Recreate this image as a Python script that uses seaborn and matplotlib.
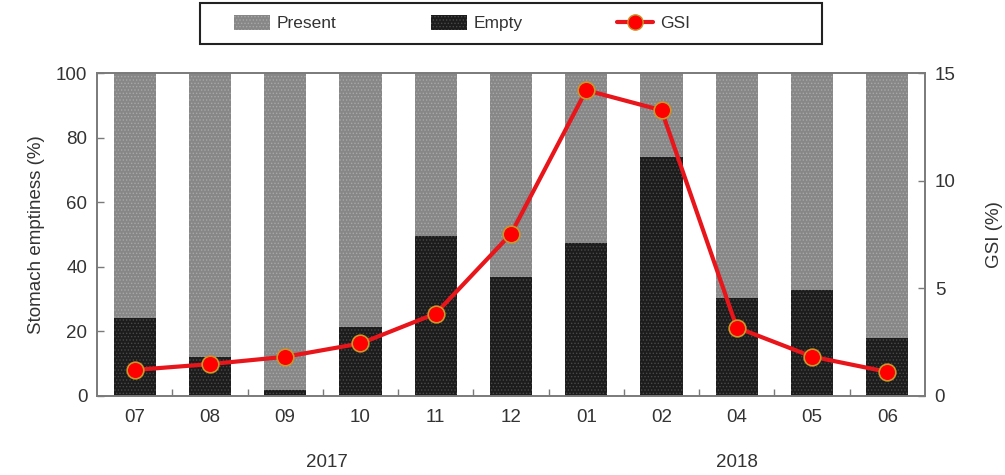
import numpy as np
import pandas as pd
import matplotlib
matplotlib.use("Agg")
import matplotlib.pyplot as plt
from matplotlib.patches import Patch, Rectangle
from matplotlib.lines import Line2D
from matplotlib.ticker import FixedLocator
import seaborn as sns

months = ["07", "08", "09", "10", "11", "12", "01", "02", "04", "05", "06"]
years = ["2017", "2018"]
empty = [24, 12, 2, 21.5, 49.6, 36.7, 47.5, 73.9, 30.3, 32.9, 17.9]
present = [100 - e for e in empty]
gsi = [1.21, 1.48, 1.82, 2.44, 3.83, 7.53, 14.2, 13.27, 3.18, 1.83, 1.12]

sns.set_theme(style="white")
plt.rcParams["font.family"] = ["Liberation Sans", "DejaVu Sans"]
plt.rcParams["hatch.linewidth"] = 0.6
text_c = "#333333"
spine_c = "#7a7a7a"
fs = 13.5

df = pd.DataFrame({"month": months, "empty": empty, "present": present, "gsi": gsi})
df["total"] = df["empty"] + df["present"]

fig = plt.figure(figsize=(10.05, 4.75), dpi=100)
ax = fig.add_axes([97 / 1005, 1 - 396 / 475, (925 - 97) / 1005, (396 - 73) / 475])

gray_c = "#878787"
black_c = "#1c1c1c"
sns.barplot(data=df, x="month", y="total", order=months, color=gray_c, width=0.56,
            saturation=1, ax=ax, edgecolor="none", linewidth=0)
n_first = len(ax.patches)
sns.barplot(data=df, x="month", y="empty", order=months, color=black_c, width=0.56,
            saturation=1, ax=ax, edgecolor="none", linewidth=0)
for i, p in enumerate(ax.patches):
    p.set_hatch(".....")
    p.set_edgecolor("#a8a8a8" if i < n_first else "#4a4a4a")
    p.set_linewidth(0)

ax.set_xlim(-0.5, len(months) - 0.5)
ax.set_ylim(0, 100)
ax.set_yticks([0, 20, 40, 60, 80, 100])
ax.set_xlabel("")
ax.set_ylabel("Stomach emptiness (%)", fontsize=fs, color=text_c, labelpad=8)
ax.tick_params(axis="y", left=True, direction="in", length=5, width=1, color=spine_c,
               labelsize=fs, labelcolor=text_c, pad=7)
ax.tick_params(axis="x", which="major", bottom=True, length=0, labelsize=fs,
               labelcolor=text_c, pad=9)
ax.xaxis.set_minor_locator(FixedLocator(np.arange(0.5, len(months) - 1, 1.0)))
ax.tick_params(axis="x", which="minor", bottom=True, direction="in", length=5, width=1,
               color=spine_c)
for s in ax.spines.values():
    s.set_color(spine_c)
    s.set_linewidth(1.2)

ax2 = ax.twinx()
sns.lineplot(x=np.arange(len(months)), y=df["gsi"], ax=ax2, color="#e8151b", linewidth=3,
             marker="o", markersize=12, markerfacecolor="#ff0000",
             markeredgecolor="#c8962a", markeredgewidth=1.2, zorder=5)
ax2.set_ylim(0, 15)
ax2.set_yticks([0, 5, 10, 15])
ax2.set_ylabel("GSI (%)", fontsize=fs, color=text_c, labelpad=22)
ax2.tick_params(axis="y", right=True, direction="in", length=5, width=1, color=spine_c,
                labelsize=fs, labelcolor=text_c, pad=7)
for s in ax2.spines.values():
    s.set_color(spine_c)
    s.set_linewidth(1.2)
ax2.grid(False)
ax.grid(False)

# year labels
ax.text(2.55, -0.205, years[0], transform=ax.get_xaxis_transform(), ha="center", va="center",
        fontsize=fs, color=text_c)
ax.text(8.0, -0.205, years[1], transform=ax.get_xaxis_transform(), ha="center", va="center",
        fontsize=fs, color=text_c)

lfs = 12.5
handles = [
    Patch(facecolor=gray_c, edgecolor="#a8a8a8", hatch=".....", linewidth=0, label="Present"),
    Patch(facecolor=black_c, edgecolor="#4a4a4a", hatch=".....", linewidth=0, label="Empty"),
    Line2D([0], [0], color="#e8151b", linewidth=3, marker="o", markersize=11,
           markerfacecolor="#ff0000", markeredgecolor="#c8962a", label="GSI"),
]
leg = fig.legend(handles=handles, loc="center", ncol=3,
                 bbox_to_anchor=(462 / 1005, 1 - 23 / 475),
                 fontsize=lfs, frameon=False, handlelength=2.1, handletextpad=0.4,
                 handleheight=1.0, columnspacing=5.4, borderaxespad=0, borderpad=0)
for t in leg.get_texts():
    t.set_color(text_c)
fig.patches.append(Rectangle((200 / 1005, 1 - 44 / 475), 622 / 1005, 41 / 475,
                             transform=fig.transFigure, fill=False, edgecolor="#222222",
                             linewidth=1.5))

fig.savefig("out.png", dpi=100)
